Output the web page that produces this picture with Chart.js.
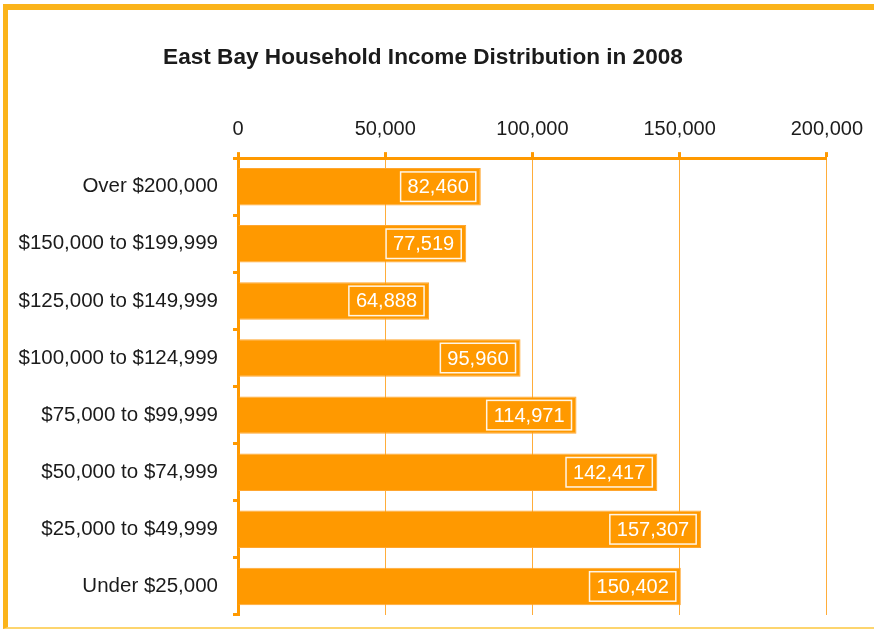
<!DOCTYPE html>
<html>
<head>
<meta charset="utf-8">
<script src="https://cdn.jsdelivr.net/npm/chart.js@4/dist/chart.umd.min.js"></script>
<style>
  html, body { margin: 0; padding: 0; background: #fff; }
  #frame {
    position: absolute; left: 3px; top: 4px;
    width: 866px; height: 617px;
    border-left: 5px solid #fbb41a;
    border-top: 6px solid #fbb41a;
    border-bottom: 2px solid #fdd56e;
  }
  canvas { display: block; }
</style>
</head>
<body>
<div id="frame"><canvas id="incomeChart" width="866" height="617"></canvas></div>
<script>
// ── DATA ──
const brackets = [
  'Over $200,000',
  '$150,000 to $199,999',
  '$125,000 to $149,999',
  '$100,000 to $124,999',
  '$75,000 to $99,999',
  '$50,000 to $74,999',
  '$25,000 to $49,999',
  'Under $25,000'
];
const households = [82460, 77519, 64888, 95960, 114971, 142417, 157307, 150402];
const axisTicks = [0, 50000, 100000, 150000, 200000];

const ORANGE = '#ff9900';
const GRID = '#ffad3a';
const TEXT = '#1b1b1b';
const FONT = "'Liberation Sans', Arial, sans-serif";

const fmt = v => v.toLocaleString('en-US');

// ── VALUE BOXES ──
const valueBoxes = {
  id: 'valueBoxes',
  afterDatasetsDraw(chart) {
    const ctx = chart.ctx;
    const meta = chart.getDatasetMeta(0);
    ctx.save();
    ctx.font = '20px ' + FONT;
    ctx.textBaseline = 'middle';
    ctx.textAlign = 'left';
    meta.data.forEach((bar, i) => {
      const txt = fmt(households[i]);
      const w = ctx.measureText(txt).width + 14;
      const h = bar.height - 8;
      const right = bar.x - 5;
      const left = right - w;
      const top = bar.y - h / 2;
      ctx.strokeStyle = '#fff5e6';
      ctx.lineWidth = 1.5;
      ctx.strokeRect(left, top, w, h);
      ctx.fillStyle = '#ffffff';
      ctx.fillText(txt, left + 7, bar.y + 1);
    });
    ctx.restore();
  }
};

new Chart(document.getElementById('incomeChart'), {
  type: 'bar',
  data: {
    labels: brackets,
    datasets: [{
      data: households,
      backgroundColor: ORANGE,
      borderColor: '#ffa630',
      borderWidth: 1,
      categoryPercentage: 1,
      barPercentage: 0.656
    }]
  },
  options: {
    indexAxis: 'y',
    responsive: false,
    animation: false,
    layout: { padding: { left: 8, right: 44, top: 0, bottom: 12 } },
    plugins: {
      legend: { display: false },
      tooltip: { enabled: false },
      title: {
        display: true,
        text: 'East Bay Household Income Distribution in 2008',
        color: TEXT,
        font: { family: FONT, size: 22.6, weight: 'bold' },
        padding: { top: 34, bottom: 8 }
      }
    },
    scales: {
      x: {
        position: 'top',
        min: 0,
        max: 200000,
        afterBuildTicks: s => { s.ticks = axisTicks.map(v => ({ value: v })); },
        afterFit: s => { s.height = 79; },
        ticks: {
          color: TEXT,
          font: { family: FONT, size: 20 },
          padding: 11,
          callback: v => fmt(v)
        },
        grid: {
          color: GRID,
          lineWidth: 1,
          tickLength: 6,
          tickWidth: 3,
          tickColor: ORANGE
        },
        border: { color: ORANGE, width: 3 }
      },
      y: {
        afterFit: s => { s.width = 222; s.paddingTop = 0; s.paddingBottom = 0; },
        ticks: {
          color: TEXT,
          font: { family: FONT, size: 20.5 },
          padding: 15
        },
        grid: {
          drawOnChartArea: false,
          tickLength: 5,
          tickWidth: 3,
          tickColor: ORANGE
        },
        border: { color: ORANGE, width: 3 }
      }
    }
  },
  plugins: [valueBoxes]
});
</script>
</body>
</html>
